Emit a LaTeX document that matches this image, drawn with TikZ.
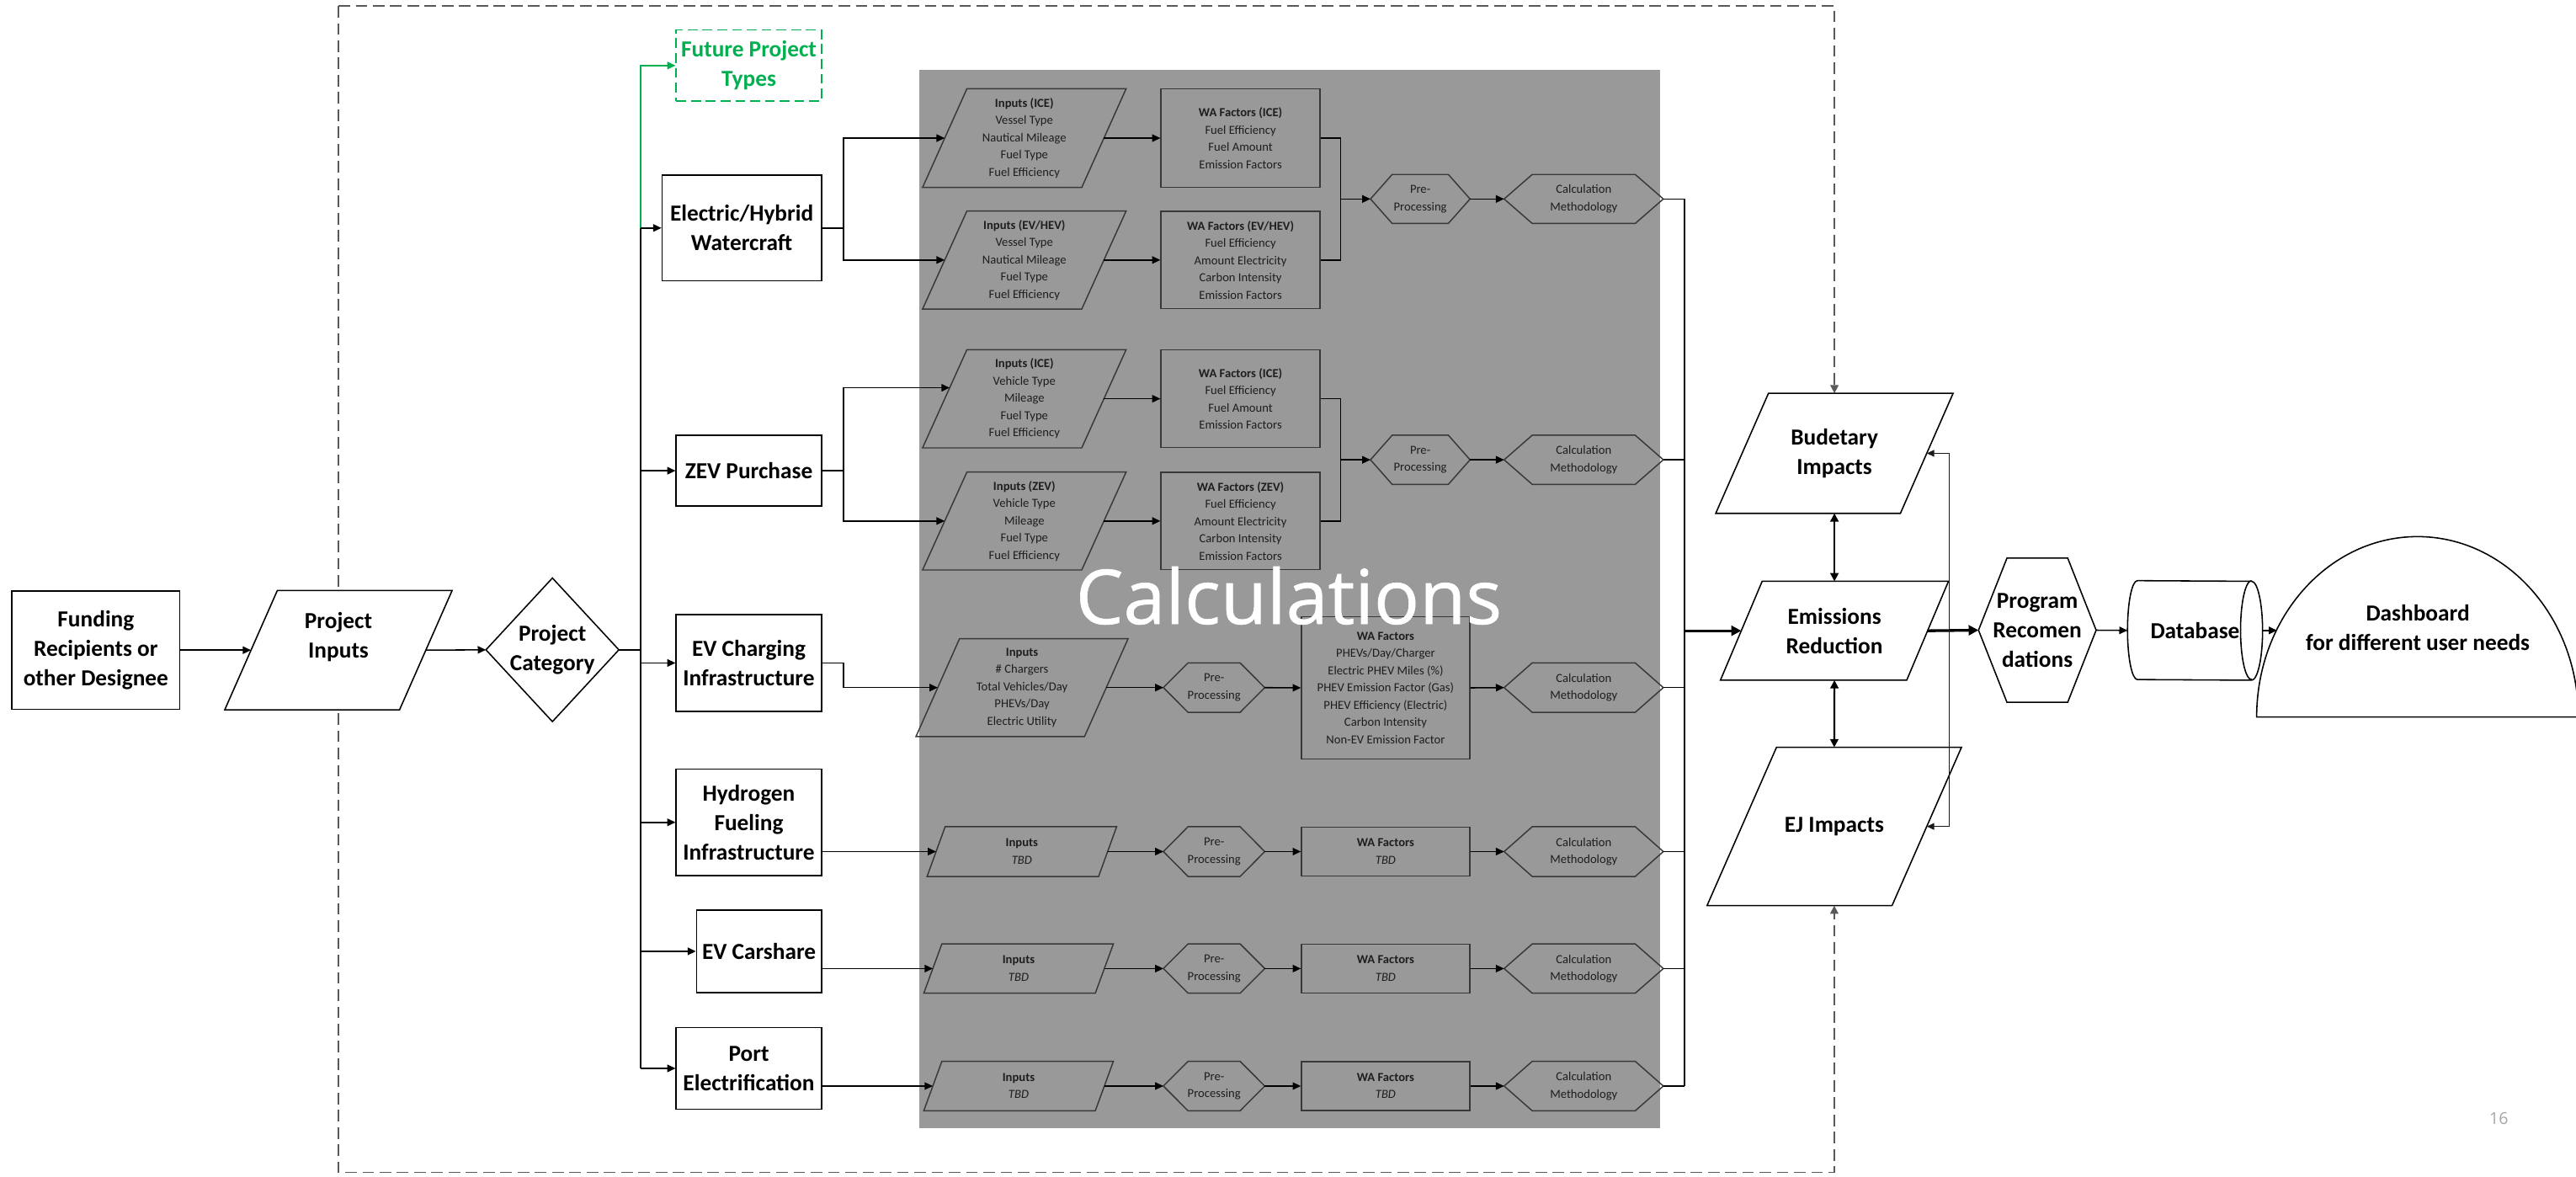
\documentclass[tikz,border=0pt]{standalone}
\usepackage{fontspec}
\setmainfont{Carlito}
\newfontfamily\titlefont[FakeBold=0.7]{Open Sans}
\newfontfamily\pagefont{Open Sans}
\usetikzlibrary{arrows.meta,shapes.geometric,calc}
\pgfdeclarelayer{bg}
\pgfdeclarelayer{shp}
\pgfsetlayers{bg,shp,main}
\definecolor{calcgray}{HTML}{999999}
\definecolor{futgreen}{HTML}{00B050}
\definecolor{inkdark}{HTML}{1E1E1E}
\newcommand\bigfont{\fontsize{14}{18}\selectfont\bfseries}
\newcommand\smallfont{\fontsize{7.5}{10.5}\selectfont}
% parallelogram: style, outline style, name, pos, edge width, height, slant, text
\newcommand\paraN[8]{%
  \node[#1, minimum width=#5pt, minimum height=#6pt] (#3) at #4 {#8};
  \begin{pgfonlayer}{shp}
    \draw[#2] ([xshift=-#7pt/2]#3.south west) -- ([xshift=#7pt/2]#3.north west) -- ([xshift=#7pt/2]#3.north east) -- ([xshift=-#7pt/2]#3.south east) -- cycle;
  \end{pgfonlayer}}
% hexagon: style, outline style, name, pos, tip-to-tip width, height, inset, text
\newcommand\hexN[8]{%
  \node[#1, minimum width=#5pt, minimum height=#6pt] (#3) at #4 {#8};
  \begin{pgfonlayer}{shp}
    \draw[#2] (#3.west) -- ([xshift=#7pt]#3.north west) -- ([xshift=-#7pt]#3.north east) -- (#3.east) -- ([xshift=-#7pt]#3.south east) -- ([xshift=#7pt]#3.south west) -- cycle;
  \end{pgfonlayer}}
\tikzset{
  nbase/.style={inner sep=0pt, align=center},
  bigtxt/.style={nbase, font=\bigfont, text=black},
  bigbox/.style={bigtxt, draw=black, line width=0.8pt, fill=white},
  smalltxt/.style={nbase, font=\smallfont, text=inkdark},
  smallbox/.style={smalltxt, draw=black!78, line width=0.75pt},
  whiteshape/.style={draw=black, line width=0.8pt, fill=white, line join=miter},
  grayshape/.style={draw=black!78, line width=0.75pt, line join=miter},
  ln/.style={draw=black, line width=0.8pt},
  arr/.style={ln, -{Triangle[length=5pt,width=4.5pt]}},
  thkarr/.style={draw=black, line width=1.7pt, -{Triangle[length=6pt,width=6pt]}},
  dblarr/.style={draw=black, line width=1.1pt, {Triangle[length=5pt,width=5pt]}-{Triangle[length=5pt,width=5pt]}},
  fbarr/.style={draw=black!90, line width=0.75pt, -{Triangle[length=4.5pt,width=4pt]}},
  dashln/.style={draw=black!65, line width=0.9pt, dash pattern=on 7pt off 3.5pt, -{Triangle[length=5pt,width=5pt]}},
}
\begin{document}
\begin{tikzpicture}[x=1pt,y=-1pt]
\useasboundingbox (0,0) rectangle (1568,716.36);
\begin{pgfonlayer}{bg}
  \fill[white] (0,0) rectangle (1568,716.36);
  \fill[calcgray] (559.6,42.4) rectangle (1010.3,686.7);
\end{pgfonlayer}

% ---------- left part ----------
\node[bigbox, minimum width=102.3pt, minimum height=72.2pt] (fund) at (58.35,395.7) {Funding\\Recipients or\\other Designee};
\paraN{bigtxt}{whiteshape}{pinp}{(206,395.7)}{106}{72.2}{32}{Project\\Inputs\\~}
\node[bigtxt, minimum width=80.5pt, minimum height=87pt] (pc) at (336.25,395.5) {Project\\Category};
\begin{pgfonlayer}{shp}
  \draw[whiteshape] (pc.west) -- (pc.north) -- (pc.east) -- (pc.south) -- cycle;
\end{pgfonlayer}

\node[bigbox, draw=futgreen, text=futgreen, dash pattern=on 6pt off 3pt, minimum width=88.4pt, minimum height=43.2pt] (fut) at (455.8,39.9) {Future Project\\Types};
\node[bigbox, minimum width=97pt, minimum height=64.5pt] (ehw) at (451.5,138.75) {Electric/Hybrid\\Watercraft};
\node[bigbox, minimum width=88.4pt, minimum height=43pt] (zev) at (455.8,286.5) {ZEV Purchase};
\node[bigbox, minimum width=88.4pt, minimum height=59pt] (evc) at (455.8,403.5) {EV Charging\\Infrastructure};
\node[bigbox, minimum width=88.4pt, minimum height=65pt] (h2) at (455.8,500.5) {Hydrogen\\Fueling\\Infrastructure};
\node[bigbox, minimum width=76pt, minimum height=50pt] (cs) at (462,579) {EV Carshare};
\node[bigbox, minimum width=88.4pt, minimum height=49.5pt] (port) at (455.8,650.25) {Port\\Electrification};

% ---------- calculations rows ----------
% row 1
\paraN{smalltxt}{grayshape}{i1a}{(623.5,84.05)}{96.5}{59.7}{27}{\textbf{Inputs (ICE)}\\Vessel Type\\Nautical Mileage\\Fuel Type\\Fuel Efficiency}
\paraN{smalltxt}{grayshape}{i1b}{(623.5,158.25)}{96.5}{59.3}{27}{\textbf{Inputs (EV/HEV)}\\Vessel Type\\Nautical Mileage\\Fuel Type\\Fuel Efficiency}
\node[smallbox, minimum width=96.8pt, minimum height=59.7pt] (w1a) at (755.1,84.05) {\textbf{WA Factors (ICE)}\\Fuel Efficiency\\Fuel Amount\\Emission Factors};
\node[smallbox, minimum width=96.8pt, minimum height=59.3pt] (w1b) at (755.1,158.25) {\textbf{WA Factors (EV/HEV)}\\Fuel Efficiency\\Amount Electricity\\Carbon Intensity\\Emission Factors};
\hexN{smalltxt}{grayshape}{p1}{(864.5,121.1)}{60.2}{29.4}{13.2}{Pre-\\Processing}
\hexN{smalltxt}{grayshape}{c1}{(964,121.1)}{96.5}{29.4}{17.1}{Calculation\\Methodology}
% row 2
\paraN{smalltxt}{grayshape}{i2a}{(623.5,242.7)}{96.5}{59.4}{27}{\textbf{Inputs (ICE)}\\Vehicle Type\\Mileage\\Fuel Type\\Fuel Efficiency}
\paraN{smalltxt}{grayshape}{i2b}{(623.5,317.1)}{96.5}{59.2}{27}{\textbf{Inputs (ZEV)}\\Vehicle Type\\Mileage\\Fuel Type\\Fuel Efficiency}
\node[smallbox, minimum width=96.8pt, minimum height=59.4pt] (w2a) at (755.1,242.7) {\textbf{WA Factors (ICE)}\\Fuel Efficiency\\Fuel Amount\\Emission Factors};
\node[smallbox, minimum width=96.8pt, minimum height=59.2pt] (w2b) at (755.1,317.1) {\textbf{WA Factors (ZEV)}\\Fuel Efficiency\\Amount Electricity\\Carbon Intensity\\Emission Factors};
\hexN{smalltxt}{grayshape}{p2}{(864.5,279.85)}{60.2}{29.5}{13.2}{Pre-\\Processing}
\hexN{smalltxt}{grayshape}{c2}{(964,279.85)}{96.5}{29.5}{17.1}{Calculation\\Methodology}
% row 3
\paraN{smalltxt}{grayshape}{i3}{(622.1,418.5)}{102.2}{59.1}{26.5}{\textbf{Inputs}\\\# Chargers\\Total Vehicles/Day\\PHEVs/Day\\Electric Utility}
\hexN{smalltxt}{grayshape}{p3}{(739,418.5)}{61.3}{29.7}{15}{Pre-\\Processing}
\node[smallbox, minimum width=102.4pt, minimum height=86.7pt] (w3) at (843.4,418.65) {\textbf{WA Factors}\\PHEVs/Day/Charger\\Electric PHEV Miles (\%)\\PHEV Emission Factor (Gas)\\PHEV Efficiency (Electric)\\Carbon Intensity\\Non-EV Emission Factor};
\hexN{smalltxt}{grayshape}{c3}{(964,418.5)}{96.5}{29.7}{17.1}{Calculation\\Methodology}
% row 4
\paraN{smalltxt}{grayshape}{i4}{(622,518.3)}{104}{29.9}{11}{\textbf{Inputs}\\\textit{TBD}}
\hexN{smalltxt}{grayshape}{p4}{(739,518.3)}{61.3}{29.9}{15}{Pre-\\Processing}
\node[smallbox, minimum width=102.4pt, minimum height=29.9pt] (w4) at (843.4,518.3) {\textbf{WA Factors}\\\textit{TBD}};
\hexN{smalltxt}{grayshape}{c4}{(964,518.3)}{96.5}{29.9}{17.1}{Calculation\\Methodology}
% row 5
\paraN{smalltxt}{grayshape}{i5}{(620,589.5)}{104}{29.6}{11}{\textbf{Inputs}\\\textit{TBD}}
\hexN{smalltxt}{grayshape}{p5}{(739,589.5)}{61.3}{29.6}{15}{Pre-\\Processing}
\node[smallbox, minimum width=102.4pt, minimum height=29.6pt] (w5) at (843.4,589.5) {\textbf{WA Factors}\\\textit{TBD}};
\hexN{smalltxt}{grayshape}{c5}{(964,589.5)}{96.5}{29.6}{17.1}{Calculation\\Methodology}
% row 6
\paraN{smalltxt}{grayshape}{i6}{(620,661)}{104}{29.7}{11}{\textbf{Inputs}\\\textit{TBD}}
\hexN{smalltxt}{grayshape}{p6}{(739,661)}{61.3}{29.7}{15}{Pre-\\Processing}
\node[smallbox, minimum width=102.4pt, minimum height=29.7pt] (w6) at (843.4,661) {\textbf{WA Factors}\\\textit{TBD}};
\hexN{smalltxt}{grayshape}{c6}{(964,661)}{96.5}{29.7}{17.1}{Calculation\\Methodology}

% ---------- right part ----------
\paraN{bigtxt}{whiteshape}{bud}{(1116.6,275.9)}{112}{72.7}{32.1}{Budetary\\Impacts}
\paraN{bigtxt}{whiteshape}{em}{(1116.6,383.9)}{113}{59.8}{25.4}{Emissions\\Reduction}
\paraN{bigtxt}{whiteshape}{ej}{(1116.5,503)}{112.2}{96}{42.3}{EJ Impacts}
\hexN{bigtxt}{whiteshape}{prog}{(1240.1,383.55)}{71.2}{87.3}{17.3}{Program\\Recomen\\dations}
\node[bigtxt, minimum width=81.8pt, minimum height=60.2pt] (db) at (1336.1,383.7) {Database};
\begin{pgfonlayer}{shp}
  \draw[whiteshape] ([xshift=6pt]db.north west) arc[start angle=90, end angle=270, x radius=6pt, y radius=30.1pt]
     -- ([xshift=-6.7pt]db.south east) arc[start angle=270, end angle=450, x radius=6.7pt, y radius=30.1pt] -- cycle;
  \draw[ln] ([xshift=-6.7pt]db.north east) arc[start angle=90, end angle=270, x radius=6.7pt, y radius=30.1pt];
\end{pgfonlayer}
\node[ellipse, draw=none, inner sep=0pt, minimum width=195.8pt, minimum height=219.6pt] (dome) at (1471.7,436.4) {};
\begin{pgfonlayer}{shp}
  \draw[whiteshape] (dome.west) arc[start angle=180, end angle=0, x radius=97.9pt, y radius=109.8pt] -- cycle;
\end{pgfonlayer}
\node[bigtxt] (dashtxt) at (1471.7,382) {Dashboard\\for different user needs};

% ---------- coordinates ----------
\coordinate (bustop) at (390,138.75);
\coordinate (busbot) at (390,650.25);
\coordinate (m1) at (816,121.1);
\coordinate (m2) at (816,279.85);
\coordinate (coltop) at (1025.4,121.1);
\coordinate (colbot) at (1025.4,661);
\coordinate (jn) at (1186.5,383.8);
\coordinate (tl) at (206,3.6);
\coordinate (bl) at (206,713.5);

% ---------- connectors ----------
\draw[arr] (fund.east) -- (pinp.west);
\draw[arr] (pinp.east) -- (pc.west);
\draw[ln] (pc.east) -- (pc.east -| bustop);
\draw[ln] (bustop) -- (busbot);
\draw[arr, draw=futgreen] (bustop) |- (fut.west);
\draw[arr] (bustop |- ehw.west) -- (ehw.west);
\draw[arr] (bustop |- zev.west) -- (zev.west);
\draw[arr] (bustop |- evc.west) -- (evc.west);
\draw[arr] (bustop |- h2.west) -- (h2.west);
\draw[arr] (bustop |- cs.west) -- (cs.west);
\draw[arr] (bustop |- port.west) -- (port.west);

\draw[arr] (ehw.east) -- ++(13,0) |- (i1a.west);
\draw[arr] (ehw.east) -- ++(13,0) |- (i1b.west);
\draw[arr] (zev.east) -- ++(13,0) |- ($(i2a.west)+(3,-6.7)$);
\draw[arr] (zev.east) -- ++(13,0) |- (i2b.west);
\draw[arr] (evc.east) -- ++(13,0) |- (i3.west);
\draw[arr] (h2.east |- i4.west) -- (i4.west);
\draw[arr] (cs.east |- i5.west) -- (i5.west);
\draw[arr] (port.east |- i6.west) -- (i6.west);

\draw[arr] (i1a.east) -- (w1a.west);
\draw[arr] (i1b.east) -- (w1b.west);
\draw[ln] (w1a.east) -| (m1);
\draw[ln] (w1b.east) -| (m1);
\draw[arr] (m1) -- (p1.west);
\draw[arr] (p1.east) -- (c1.west);

\draw[arr] (i2a.east) -- (w2a.west);
\draw[arr] (i2b.east) -- (w2b.west);
\draw[ln] (w2a.east) -| (m2);
\draw[ln] (w2b.east) -| (m2);
\draw[arr] (m2) -- (p2.west);
\draw[arr] (p2.east) -- (c2.west);

\draw[arr] (i3.east) -- (p3.west);
\draw[arr] (p3.east) -- (w3.west);
\draw[arr] (w3.east) -- (c3.west);
\draw[arr] (i4.east) -- (p4.west);
\draw[arr] (p4.east) -- (w4.west);
\draw[arr] (w4.east) -- (c4.west);
\draw[arr] (i5.east) -- (p5.west);
\draw[arr] (p5.east) -- (w5.west);
\draw[arr] (w5.east) -- (c5.west);
\draw[arr] (i6.east) -- (p6.west);
\draw[arr] (p6.east) -- (w6.west);
\draw[arr] (w6.east) -- (c6.west);

\draw[ln] (c1.east) -- (c1.east -| coltop);
\draw[ln] (c2.east) -- (c2.east -| coltop);
\draw[ln] (c3.east) -- (c3.east -| coltop);
\draw[ln] (c4.east) -- (c4.east -| coltop);
\draw[ln] (c5.east) -- (c5.east -| coltop);
\draw[ln] (c6.east) -- (c6.east -| coltop);
\draw[ln] (coltop) -- (colbot);

\draw[thkarr] (coltop |- em.west) -- (em.west);
\draw[thkarr] (em.east) -- (prog.west);
\draw[dblarr] (bud.south) -- (em.north);
\draw[dblarr] (em.south) -- (ej.north);
\draw[fbarr] (jn) |- (bud.east);
\draw[fbarr] (jn) |- (ej.east);
\draw[arr] (prog.east) -- (db.west);
\draw[arr] (db.east) -- (db.east -| dome.148);

\begin{pgfonlayer}{bg}
  \draw[dashln] (tl) -| (bud.north);
  \draw[dashln] (tl) -- (bl) -| (ej.south);
\end{pgfonlayer}

% ---------- titles ----------
\node[text=white, font=\titlefont\fontsize{46}{50}\selectfont, inner sep=0pt] (calctitle) at (784.5,362.5) {Calculations};
\node[text=black!35, font=\pagefont\fontsize{10}{12}\selectfont, inner sep=0pt] (pgnum) at (1521,681) {16};
\end{tikzpicture}
\end{document}
